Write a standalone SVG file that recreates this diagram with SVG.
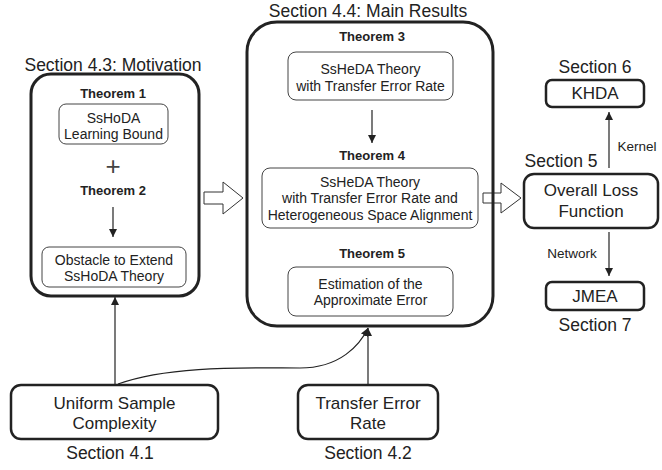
<svg xmlns="http://www.w3.org/2000/svg" width="662" height="470" viewBox="0 0 662 470">
<defs>
<marker id="ah" viewBox="0 0 10 10" refX="10" refY="5" markerWidth="8" markerHeight="8" markerUnits="userSpaceOnUse" orient="auto">
<path d="M0,0 L10,5 L0,10 z" fill="#222"/>
</marker>
<style>
text{font-family:"Liberation Sans",Arial,sans-serif;fill:#222;text-anchor:middle}
.sec{font-size:17.5px}
.thm{font-size:13px;font-weight:bold}
.bt{font-size:14px}
.big{font-size:17px}
.lbl{font-size:13.5px}
.outer{fill:none;stroke:#222;stroke-width:3}
.inner{fill:#fff;stroke:#444;stroke-width:1}
.box{fill:#fff;stroke:#222;stroke-width:2.5}
.ln{fill:none;stroke:#222;stroke-width:1.2}
.blk{fill:#fff;stroke:#333;stroke-width:1}
</style>
</defs>
<rect width="662" height="470" fill="#fff"/>
<g id="connectors">
<polygon class="blk" points="204,192 223,192 223,182 243,198 223,214 223,204 204,204"/>
<polygon class="blk" points="483,193 501,193 501,183 521,198 501,213 501,203 483,203"/>
<line class="ln" x1="113" y1="207" x2="113" y2="237" marker-end="url(#ah)"/>
<line class="ln" x1="372" y1="110" x2="372" y2="143" marker-end="url(#ah)"/>
<line class="ln" x1="609" y1="168" x2="609" y2="112" marker-end="url(#ah)"/>
<line class="ln" x1="609" y1="232" x2="609" y2="276" marker-end="url(#ah)"/>
<line class="ln" x1="115" y1="385" x2="115" y2="297" marker-end="url(#ah)"/>
<path class="ln" d="M118,384 C170,365 250,368 300,368 C340,368 360,345 368,328" marker-end="url(#ah)"/>
<line class="ln" x1="368" y1="385" x2="368" y2="328" marker-end="url(#ah)"/>
<text class="lbl" x="637" y="151">Kernel</text>
<text class="lbl" x="572" y="258">Network</text>
</g>
<g id="motivation">
<text class="sec" x="113" y="71">Section 4.3: Motivation</text>
<rect class="outer" x="31" y="74" width="168" height="222" rx="20"/>
<text class="thm" x="113" y="98">Theorem 1</text>
<rect class="inner" x="59" y="104" width="109" height="40" rx="7"/>
<text class="bt" x="113.5" y="123">SsHoDA</text>
<text class="bt" x="113.5" y="139">Learning Bound</text>
<text x="113" y="175" style="font-size:26px;fill:#444">+</text>
<text class="thm" x="113" y="195">Theorem 2</text>
<rect class="inner" x="42" y="247" width="144" height="40" rx="7"/>
<text class="bt" x="114" y="265">Obstacle to Extend</text>
<text class="bt" x="114" y="281">SsHoDA Theory</text>
</g>
<g id="main-results">
<text class="sec" x="368" y="17">Section 4.4: Main Results</text>
<rect class="outer" x="247" y="22" width="246" height="304" rx="30"/>
<text class="thm" x="372" y="41">Theorem 3</text>
<rect class="inner" x="288" y="52" width="165" height="48" rx="8"/>
<text class="bt" x="370.5" y="74">SsHeDA Theory</text>
<text class="bt" x="370.5" y="91">with Transfer Error Rate</text>
<text class="thm" x="372" y="160">Theorem 4</text>
<rect class="inner" x="262" y="168" width="216" height="60" rx="8"/>
<text class="bt" x="370" y="187">SsHeDA Theory</text>
<text class="bt" x="370" y="203">with Transfer Error Rate and</text>
<text class="bt" x="370" y="220">Heterogeneous Space Alignment</text>
<text class="thm" x="372" y="258">Theorem 5</text>
<rect class="inner" x="288" y="267" width="165" height="49" rx="8"/>
<text class="bt" x="370.5" y="289">Estimation of the</text>
<text class="bt" x="370.5" y="305">Approximate Error</text>
</g>
<g id="overall-loss">
<text class="sec" x="561" y="167">Section 5</text>
<rect class="box" x="524" y="174" width="134" height="54" rx="10"/>
<text class="big" x="591" y="196">Overall Loss</text>
<text class="big" x="591" y="217">Function</text>
</g>
<g id="khda">
<text class="sec" x="595" y="73">Section 6</text>
<rect class="box" x="546" y="80" width="98" height="27" rx="6"/>
<text class="big" x="595" y="99">KHDA</text>
</g>
<g id="jmea">
<rect class="box" x="546" y="282" width="98" height="28" rx="6"/>
<text class="big" x="595" y="302">JMEA</text>
<text class="sec" x="595" y="331">Section 7</text>
</g>
<g id="uniform">
<rect class="box" x="11" y="385" width="207" height="54" rx="10"/>
<text class="big" x="114.5" y="409">Uniform Sample</text>
<text class="big" x="114.5" y="429">Complexity</text>
<text class="sec" x="110" y="459">Section 4.1</text>
</g>
<g id="transfer">
<rect class="box" x="298" y="385" width="140" height="54" rx="10"/>
<text class="big" x="368" y="409">Transfer Error</text>
<text class="big" x="368" y="429">Rate</text>
<text class="sec" x="368" y="459">Section 4.2</text>
</g>
</svg>
